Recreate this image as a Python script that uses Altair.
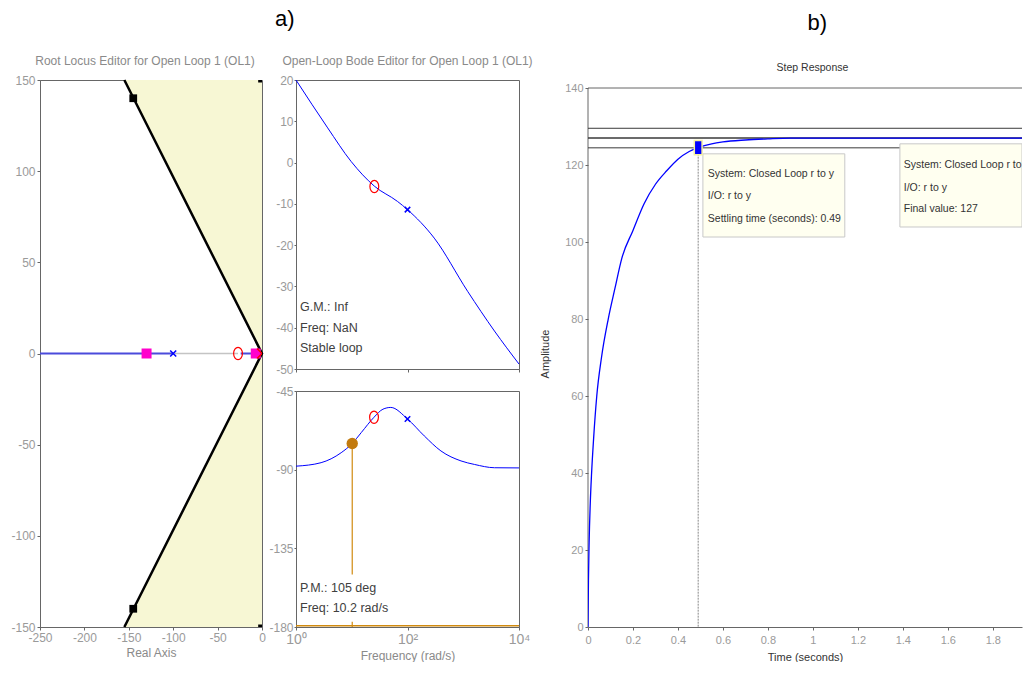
import altair as alt
import pandas as pd

FONT = "Liberation Sans"
GREY = "#9a9a9a"

# ---------------- Root locus (panel a, left) ----------------
rl_cone_x = [-155, 0, -155]
rl_cone_y = [150, 0, -150]
rl_blue_seg = ["a", "a", "b", "b"]
rl_blue_x = [-250, -100, -24, 0]
rl_grey_x = [-100, -27]
rl_pole_blue_x = [-100]
rl_pole_red_x = [0]
rl_zero_x = [-27]
rl_mag_sq_x = [-130, -7]
rl_blk_sq_x = [-145, -145]
rl_blk_sq_y = [140, -140]
rl_corner_x = [-1.5, -1.5]
rl_corner_y = [150, -150]

# ---------------- Open-loop Bode magnitude ----------------
mag_w = [1, 3.7, 9.7, 25.4, 66, 100, 302, 1200, 3630, 10000]
mag_db = [20, 8.4, 0.3, -5.7, -9.4, -11.4, -18.3, -31.2, -40.8, -48.8]
mag_zero = (25.4, -5.8)
mag_pole = (100, -11.4)
mag_text = ["G.M.: Inf", "Freq: NaN", "Stable loop"]
mag_text_y = [-35, -40, -45]

# ---------------- Open-loop Bode phase ----------------
ph_w = [1, 2.82, 6.46, 10.2, 14.8, 25.1, 36.3, 50.1, 100, 200, 398, 912, 1585, 3631, 10000]
ph_deg = [-88, -86, -80.3, -75, -68.8, -60, -55.4, -54.4, -61, -70.7, -79.3, -85, -87, -88.9, -89]
ph_zero = (25.1, -60)
ph_pole = (100, -61)
pm_freq = 10.2
pm_phase = -75
pm_line_end = -150
ph_text = ["P.M.: 105 deg", "Freq: 10.2 rad/s"]
ph_text_y = [-157.7, -169.2]

# ---------------- Step response (panel b) ----------------
st_t = [0, 0.002, 0.005, 0.01, 0.016, 0.025, 0.039, 0.06, 0.09, 0.12, 0.15, 0.2, 0.25,
        0.3, 0.35, 0.4, 0.45, 0.49, 0.55, 0.6, 0.7, 0.8, 0.9, 1.0, 1.2, 1.5, 1.93]
st_y = [0, 12, 22, 32, 40, 49, 60, 70, 80, 88, 95.7, 103, 110, 115, 118.5, 121.5,
        123.5, 124.5, 125.5, 126.0, 126.5, 126.8, 127, 127, 127, 127, 127]
st_levels = [129.54, 127, 124.46]
st_level_w = [1, 1.6, 1]
st_top = 140
settle_t = 0.49
settle_y = 124.5
box_x = [0.511, 1.387]
box_x2 = [1.142, 1.93]
box_y = [122.9, 125.5]
box_y2 = [101.3, 103.9]
box_text = ["System: Closed Loop r to y", "I/O: r to y", "Settling time (seconds): 0.49",
            "System: Closed Loop r to y", "I/O: r to y", "Final value: 127"]
box_text_x = [0.533, 0.533, 0.533, 1.404, 1.404, 1.404]
box_text_y = [117.7, 112.0, 106.0, 120.0, 114.0, 108.6]

XPATH = "M-1,-1L1,1M-1,1L1,-1"
ELLIPSE = "M0,-1A0.72,1,0,1,1,0,1A0.72,1,0,1,1,0,-1Z"
BAR = "M-0.55,-1L0.55,-1L0.55,1L-0.55,1Z"
HYPHEN = "datum.value < 0 ? '-' + abs(datum.value) : '' + datum.value"

# ================= Root locus chart =================
def rlx(f="x"):
    return alt.X(f"{f}:Q", scale=alt.Scale(domain=[-250, 0], nice=False, zero=False),
                 axis=alt.Axis(values=[-250, -200, -150, -100, -50, 0], title="Real Axis",
                               labelExpr=HYPHEN))

def rly(f="y"):
    return alt.Y(f"{f}:Q", scale=alt.Scale(domain=[-150, 150], nice=False, zero=False),
                 axis=alt.Axis(values=[-150, -100, -50, 0, 50, 100, 150], title=None,
                               labelExpr=HYPHEN))

cone = alt.Chart(pd.DataFrame({"x": rl_cone_x, "y": rl_cone_y, "x2": [0] * 3})).mark_area(
    orient="horizontal", color="#F7F7D4", opacity=1).encode(x=rlx(), x2="x2:Q", y=rly())
damp = alt.Chart(pd.DataFrame({"x": rl_cone_x, "y": rl_cone_y, "o": [0, 1, 2]})).mark_line(
    color="black", strokeWidth=2.5).encode(x=rlx(), y=rly(), order="o:Q")
blue_loc = alt.Chart(pd.DataFrame({"x": rl_blue_x, "y": [0] * 4, "s": rl_blue_seg})).mark_line(
    color="#4B4BDB", strokeWidth=2).encode(x=rlx(), y=rly(), detail="s:N")
grey_loc = alt.Chart(pd.DataFrame({"x": rl_grey_x, "y": [0] * 2})).mark_line(
    color="#C4C4C4", strokeWidth=1.5).encode(x=rlx(), y=rly())
mag_sq = alt.Chart(pd.DataFrame({"x": rl_mag_sq_x, "y": [0] * 2})).mark_point(
    shape="square", filled=True, color="#FF00CC", size=100, opacity=1).encode(x=rlx(), y=rly())
blk_sq = alt.Chart(pd.DataFrame({"x": rl_blk_sq_x, "y": rl_blk_sq_y})).mark_point(
    shape="square", filled=True, color="black", size=60, opacity=1).encode(x=rlx(), y=rly())
corner_sq = alt.Chart(pd.DataFrame({"x": rl_corner_x, "y": rl_corner_y})).mark_point(
    shape="square", filled=True, color="black", size=25, opacity=1, clip=True).encode(x=rlx(), y=rly())
pole_b = alt.Chart(pd.DataFrame({"x": rl_pole_blue_x, "y": [0]})).mark_point(
    shape=XPATH, color="#0000FF", size=36, strokeWidth=1.5, opacity=1).encode(x=rlx(), y=rly())
pole_r = alt.Chart(pd.DataFrame({"x": rl_pole_red_x, "y": [0]})).mark_point(
    shape=XPATH, color="#FF0000", size=100, strokeWidth=1.5, opacity=1, clip=True).encode(x=rlx(), y=rly())
zero_r = alt.Chart(pd.DataFrame({"x": rl_zero_x, "y": [0]})).mark_point(
    shape=ELLIPSE, color="#FF0000", size=150, strokeWidth=1.2, opacity=1).encode(x=rlx(), y=rly())

rl_chart = alt.layer(cone, damp, grey_loc, blue_loc, zero_r, pole_b, mag_sq, blk_sq,
                     corner_sq, pole_r).properties(
    width=222, height=547,
    title=alt.TitleParams("Root Locus Editor for Open Loop 1 (OL1)", fontSize=12,
                          color="#8a8a8a", font=FONT, fontWeight="normal", anchor="middle",
                          offset=6, dx=-6))

# ================= Bode magnitude =================
def bx(labels):
    if labels:
        ax = alt.Axis(values=[1, 100, 10000], title="Frequency (rad/s)", labelFontSize=14,
                      labelExpr="datum.value == 1 ? '10\u2070' : datum.value == 100 ? '10\u00b2' : '10\u2074'")
    else:
        ax = alt.Axis(values=[1, 100, 10000], labels=False, title=None)
    return alt.X("w:Q", scale=alt.Scale(type="log", domain=[1, 10000], nice=False), axis=ax)

def my():
    return alt.Y("v:Q", scale=alt.Scale(domain=[-50, 20], nice=False, zero=False),
                 axis=alt.Axis(values=[-50, -40, -30, -20, -10, 0, 10, 20], title=None,
                               labelExpr=HYPHEN, tickSize=2, labelPadding=1))

def py():
    return alt.Y("v:Q", scale=alt.Scale(domain=[-180, -45], nice=False, zero=False),
                 axis=alt.Axis(values=[-180, -135, -90, -45], title=None, labelExpr=HYPHEN,
                               tickSize=2, labelPadding=1))

mag_line = alt.Chart(pd.DataFrame({"w": mag_w, "v": mag_db})).mark_line(
    color="#0000FF", strokeWidth=1, interpolate="monotone").encode(x=bx(False), y=my())
mag_z = alt.Chart(pd.DataFrame({"w": [mag_zero[0]], "v": [mag_zero[1]]})).mark_point(
    shape=ELLIPSE, color="#FF0000", size=150, strokeWidth=1.2, opacity=1).encode(x=bx(False), y=my())
mag_p = alt.Chart(pd.DataFrame({"w": [mag_pole[0]], "v": [mag_pole[1]]})).mark_point(
    shape=XPATH, color="#0000FF", size=30, strokeWidth=1.5, opacity=1).encode(x=bx(False), y=my())
mag_t = alt.Chart(pd.DataFrame({"w": [1.18] * 3, "v": mag_text_y, "t": mag_text})).mark_text(
    align="left", baseline="middle", font=FONT, fontSize=12.5, color="#404040").encode(
    x=bx(False), y=my(), text="t:N")

mag_chart = alt.layer(mag_line, mag_z, mag_p, mag_t).properties(
    width=223, height=289,
    title=alt.TitleParams("Open-Loop Bode Editor for Open Loop 1 (OL1)", fontSize=12,
                          color="#8a8a8a", font=FONT, fontWeight="normal", anchor="middle", offset=6))

# ================= Bode phase =================
ph_line = alt.Chart(pd.DataFrame({"w": ph_w, "v": ph_deg})).mark_line(
    color="#0000FF", strokeWidth=1, interpolate="monotone").encode(x=bx(True), y=py())
ph_180 = alt.Chart(pd.DataFrame({"w": [1, 10000], "v": [-179.3, -179.3]})).mark_line(
    color="#D08A10", strokeWidth=1.5).encode(x=bx(True), y=py())
pm_rule = alt.Chart(pd.DataFrame({"w": [pm_freq], "v": [pm_phase], "v2": [pm_line_end]})).mark_rule(
    color="#D08A10", strokeWidth=1.2).encode(x=bx(True), y=py(), y2="v2:Q")
pm_tick = alt.Chart(pd.DataFrame({"w": [pm_freq], "v": [-177], "v2": [-180]})).mark_rule(
    color="#D08A10", strokeWidth=1.2).encode(x=bx(True), y=py(), y2="v2:Q")
pm_dot = alt.Chart(pd.DataFrame({"w": [pm_freq], "v": [pm_phase]})).mark_point(
    shape="circle", filled=True, color="#C27A0E", size=130, opacity=1).encode(x=bx(True), y=py())
ph_z = alt.Chart(pd.DataFrame({"w": [ph_zero[0]], "v": [ph_zero[1]]})).mark_point(
    shape=ELLIPSE, color="#FF0000", size=150, strokeWidth=1.2, opacity=1).encode(x=bx(True), y=py())
ph_p = alt.Chart(pd.DataFrame({"w": [ph_pole[0]], "v": [ph_pole[1]]})).mark_point(
    shape=XPATH, color="#0000FF", size=30, strokeWidth=1.5, opacity=1).encode(x=bx(True), y=py())
ph_t = alt.Chart(pd.DataFrame({"w": [1.18] * 2, "v": ph_text_y, "t": ph_text})).mark_text(
    align="left", baseline="middle", font=FONT, fontSize=12.5, color="#404040").encode(
    x=bx(True), y=py(), text="t:N")

ph_chart = alt.layer(ph_180, pm_rule, pm_tick, ph_line, pm_dot, ph_z, ph_p, ph_t).properties(
    width=223, height=236)

bode = alt.vconcat(mag_chart, ph_chart, spacing=8)

# ================= Step response =================
STEP_W = 434
STEP_XMAX = 1.93

def sx(f="t"):
    return alt.X(f"{f}:Q", scale=alt.Scale(domain=[0, STEP_XMAX], nice=False, zero=False),
                 axis=alt.Axis(values=[0, 0.2, 0.4, 0.6, 0.8, 1.0, 1.2, 1.4, 1.6, 1.8], format="~g",
                               title="Time (seconds)", labelFontSize=11, titleFontSize=11,
                               titleColor="#333333", titlePadding=6, labelPadding=4))

def sy(f="y"):
    return alt.Y(f"{f}:Q", scale=alt.Scale(domain=[0, 142.08], nice=False, zero=False),
                 axis=alt.Axis(values=[0, 20, 40, 60, 80, 100, 120, 140], title="Amplitude",
                               labelFontSize=11, titleFontSize=11, titleColor="#333333",
                               titlePadding=14, domain=False))

boxes = alt.Chart(pd.DataFrame({"t": box_x, "t2": box_x2, "y": box_y, "y2": box_y2})).mark_rect(
    fill="#FFFFF0", stroke="#C8C8C8", strokeWidth=1, clip=True).encode(
    x=sx(), x2="t2:Q", y=sy(), y2="y2:Q")
btext = alt.Chart(pd.DataFrame({"t": box_text_x, "y": box_text_y, "s": box_text})).mark_text(
    align="left", baseline="middle", font=FONT, fontSize=10.5, color="#333333", clip=True).encode(
    x=sx(), y=sy(), text="s:N")
levels = alt.Chart(pd.DataFrame({"y": st_levels, "w": st_level_w})).mark_rule(
    color="#3a3a3a").encode(y=sy(), strokeWidth=alt.StrokeWidth("w:Q", legend=None, scale=None))
top_border = alt.Chart(pd.DataFrame({"y": [st_top]})).mark_rule(
    color="#666666", strokeWidth=1).encode(y=sy())
left_border = alt.Chart(pd.DataFrame({"t": [0], "y": [0], "y2": [st_top]})).mark_rule(
    color="#666666", strokeWidth=1).encode(x=sx(), y=sy(), y2="y2:Q")
settle_rule = alt.Chart(pd.DataFrame({"t": [settle_t], "y": [settle_y], "y2": [0]})).mark_rule(
    color="#888888", strokeDash=[2, 1], strokeWidth=1).encode(x=sx(), y=sy(), y2="y2:Q")
step_line = alt.Chart(pd.DataFrame({"t": st_t, "y": st_y})).mark_line(
    color="#0000FF", strokeWidth=1.3, interpolate="monotone", clip=True).encode(x=sx(), y=sy())
settle_pt = alt.Chart(pd.DataFrame({"t": [settle_t], "y": [settle_y]})).mark_point(
    shape=BAR, filled=True, fill="#0000FF", stroke="#F5F0A0", strokeWidth=1.5, size=200,
    opacity=1).encode(x=sx(), y=sy())

step_chart = alt.layer(top_border, left_border, levels, settle_rule, step_line, boxes, btext,
                       settle_pt).properties(
    width=STEP_W, height=547, view=alt.ViewBackground(stroke=None),
    title=alt.TitleParams("Step Response", fontSize=10.5, color="#333333", font=FONT,
                          fontWeight="normal", anchor="middle", offset=6.6, frame="group", dx=7.5))

A = alt.hconcat(rl_chart, bode, spacing=0,
                title=alt.TitleParams("a)", fontSize=22, font="Liberation Sans", color="black",
                                      fontWeight="normal", anchor="middle", offset=23.1, dx=13))
B = alt.hconcat(step_chart,
                title=alt.TitleParams("b)", fontSize=22, font="Liberation Sans", color="black",
                                      fontWeight="normal", anchor="middle", offset=27.6, dx=36))

chart = alt.hconcat(A, B, spacing=5).properties(
    padding={"left": 2, "top": 0, "right": 0, "bottom": 0}
).configure_axis(
    labelColor=GREY, labelFont=FONT, labelFontSize=12, titleFont=FONT, titleColor="#8a8a8a",
    titleFontSize=12, titleFontWeight="normal", domainColor="#666666", tickColor="#666666",
    tickSize=3, grid=False, labelPadding=2, titlePadding=4, labelOverlap=False, labelFlush=False
).configure_view(stroke="#666666", strokeWidth=1)

chart.save("out.html", embed_options={"renderer": "svg", "actions": False})
